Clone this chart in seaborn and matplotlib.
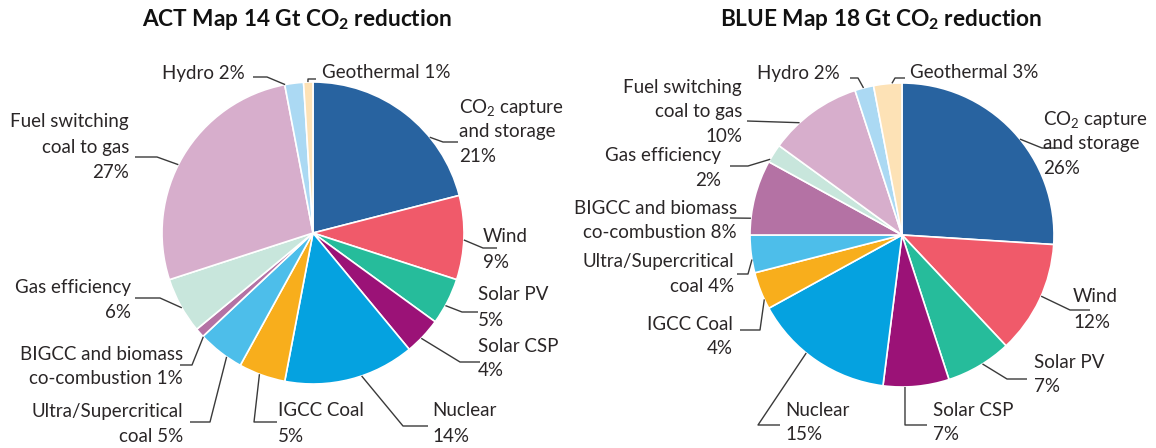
import matplotlib
matplotlib.use("Agg")
import matplotlib.pyplot as plt
import numpy as np
import seaborn as sns

# ---------------- data ----------------
categories = ["CO2 capture and storage", "Wind", "Solar PV", "Solar CSP", "Nuclear",
              "IGCC Coal", "Ultra/Supercritical coal", "BIGCC and biomass co-combustion",
              "Gas efficiency", "Fuel switching coal to gas", "Hydro", "Geothermal"]
act_values = [21, 9, 5, 4, 14, 5, 5, 1, 6, 27, 2, 1]
blue_values = [26, 12, 7, 7, 15, 4, 4, 8, 2, 10, 2, 3]
label_templates = [
    "CO$_{\\mathregular{2}}$ capture\nand storage\n<v>%",
    "Wind\n<v>%",
    "Solar PV\n<v>%",
    "Solar CSP\n<v>%",
    "Nuclear\n<v>%",
    "IGCC Coal\n<v>%",
    "Ultra/Supercritical\ncoal <v>%",
    "BIGCC and biomass\nco-combustion <v>%",
    "Gas efficiency\n<v>%",
    "Fuel switching\ncoal to gas\n<v>%",
    "Hydro <v>%",
    "Geothermal <v>%",
]
titles = ["ACT Map 14 Gt CO$_{\\mathbf{2}}$ reduction",
          "BLUE Map 18 Gt CO$_{\\mathbf{2}}$ reduction"]
colors = ["#2863a0", "#f05a6a", "#26bc9b", "#9b1277", "#05a2e0", "#f8ae1c",
          "#4dbeea", "#b472a4", "#c8e6dc", "#d7aecc", "#abd9f3", "#fde2b6"]

# ---------------- layout (pixel positions) ----------------
W, H = 1156, 448
pies = [
    dict(center=(313, 233), radius=151, title_xy=(297, 19)),
    dict(center=(902, 235), radius=152, title_xy=(881, 19)),
]
# (x, y of first line, ha, connector points [first point snapped to pie edge])
act_layout = [
    (459, 107, "left", [(430, 137), (443, 142), (458, 142)]),
    (483, 237, "left", [(465, 240), (483, 248), (497, 248)]),
    (478, 295, "left", [(448, 307), (462, 312), (478, 312)]),
    (478, 346, "left", [(423, 340), (460, 362), (480, 362)]),
    (432, 411, "left", [(363, 380), (403, 426), (428, 426)]),
    (278, 411, "left", [(258, 378), (254, 422), (277, 422)]),
    (183, 411, "right", [(223, 362), (210, 422), (190, 422)]),
    (183, 354, "right", [(202, 338), (192, 365), (180, 365)]),
    (131, 287, "right", [(178, 310), (160, 298), (135, 298)]),
    (129, 122, "right", [(177, 164), (157, 157), (135, 157)]),
    (245, 73, "right", [(285, 84), (267, 77), (253, 77)]),
    (322, 73, "left", [(308, 84), (308, 79), (316, 79)]),
]
blue_layout = [
    (1043, 119, "left", [(1025, 135), (1042, 148), (1060, 148)]),
    (1073, 297, "left", [(1043, 297), (1070, 310), (1090, 310)]),
    (1034, 362, "left", [(980, 360), (1007, 379), (1027, 379)]),
    (933, 410, "left", [(905, 388), (905, 425), (927, 425)]),
    (785, 410, "left", [(803, 357), (758, 425), (780, 425)]),
    (733, 324, "right", [(763, 300), (760, 330), (740, 330)]),
    (734, 262, "right", [(749, 260), (748, 274), (737, 274)]),
    (737, 208, "right", [(749, 218), (730, 218)]),
    (721, 155, "right", [(768, 158), (748, 166), (730, 166)]),
    (742, 87, "right", [(798, 121), (747, 121)]),
    (840, 73, "right", [(863, 86), (858, 78), (850, 78)]),
    (910, 73, "left", [(892, 84), (895, 78), (905, 78)]),
]
LINE_DY = 25

sns.set_theme(style="white")
plt.rcParams["font.family"] = ["Lato", "DejaVu Sans"]
plt.rcParams["mathtext.fontset"] = "custom"
plt.rcParams["mathtext.rm"] = "Lato"
plt.rcParams["mathtext.it"] = "Lato:italic"
plt.rcParams["mathtext.bf"] = "Lato:bold"

fig = plt.figure(figsize=(W / 100, H / 100), dpi=100)
fig.patch.set_facecolor("white")
ax = fig.add_axes([0, 0, 1, 1])

TEXT_C = "#2a2627"
LINE_C = "#3a3a3a"

for pie, values, layout, title in zip(pies, [act_values, blue_values],
                                       [act_layout, blue_layout], titles):
    cx, cy = pie["center"]
    r = pie["radius"]
    # y axis is inverted (pixel coords): counterclock=True + startangle=-90
    # renders clockwise from 12 o'clock on screen
    ax.pie(values, colors=colors, center=(cx, cy), radius=r,
           startangle=-90, counterclock=True, normalize=True,
           wedgeprops=dict(edgecolor="white", linewidth=1.2))
    for tmpl, v, (tx, ty, ha, pts) in zip(label_templates, values, layout):
        lines = tmpl.replace("<v>", str(v)).split("\n")
        for i, ln in enumerate(lines):
            ax.text(tx, ty + i * LINE_DY, ln, ha=ha, va="center",
                    fontsize=13.5, color=TEXT_C)
        # snap the first connector point onto the pie edge
        px, py = pts[0]
        d = np.hypot(px - cx, py - cy)
        sx, sy = cx + (px - cx) * r / d, cy + (py - cy) * r / d
        xs = [sx] + [p[0] for p in pts[1:]]
        ys = [sy] + [p[1] for p in pts[1:]]
        ax.plot(xs, ys, color=LINE_C, lw=1.0, solid_capstyle="butt")
    tx, ty = pie["title_xy"]
    ax.text(tx, ty, title, ha="center", va="center", fontsize=16.3,
            fontweight="bold", color="#111111")

ax.set_xlim(0, W)
ax.set_ylim(H, 0)
ax.set_aspect("equal", adjustable="datalim")
ax.axis("off")

fig.savefig("out.png", dpi=100, facecolor="white")
